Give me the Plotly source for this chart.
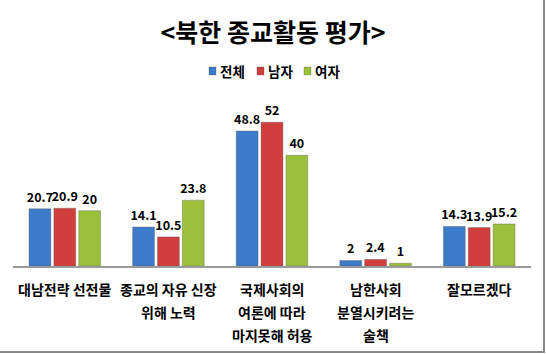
import plotly.graph_objects as go

categories = ["대남전략 선전물", "종교의 자유 신장 위해 노력", "국제사회의 여론에 따라 마지못해 허용",
              "남한사회 분열시키려는 술책", "잘모르겠다"]
label_lines = [["대남전략 선전물"], ["종교의 자유 신장", "위해 노력"],
               ["국제사회의", "여론에 따라", "마지못해 허용"],
               ["남한사회", "분열시키려는", "술책"], ["잘모르겠다"]]
series_names = ["전체", "남자", "여자"]
total = [20.7, 14.1, 48.8, 2, 14.3]
male = [20.9, 10.5, 52, 2.4, 13.9]
female = [20, 23.8, 40, 1, 15.2]
colors = ["#3D7BC8", "#D13E3E", "#9CC03C"]

W, H = 546, 354
L, R, T, B = 13, 15, 100, 88
FONT = "Noto Sans CJK KR"

fig = go.Figure()
for name, vals, col in zip(series_names, [total, male, female], colors):
    fig.add_trace(go.Bar(
        name=name, x=categories, y=vals,
        marker=dict(color=col, line=dict(color="rgba(90,90,90,0.35)", width=1)),
        text=[f"{v:g}" for v in vals], textposition="outside",
        textfont=dict(family=FONT, size=12.5, color="black", weight="bold"),
        constraintext="none", cliponaxis=False, showlegend=False,
    ))

pw = W - L - R
ph = H - T - B


def px_x(p):
    return (p - L) / pw


def px_y(p):
    return (H - B - p) / ph


annotations = []
for cat, lines in zip(categories, label_lines):
    for i, ln in enumerate(lines):
        ypix = 289 + i * 23
        annotations.append(dict(
            x=cat, xref="x", y=px_y(ypix), yref="paper",
            text=ln, showarrow=False, xanchor="center", yanchor="middle",
            font=dict(family=FONT, size=14, color="black", weight="bold"),
        ))

shapes = [
    dict(type="line", xref="paper", yref="paper", x0=px_x(544), x1=px_x(544),
         y0=px_y(0), y1=px_y(352), line=dict(color="#8A8A8A", width=2)),
    dict(type="line", xref="paper", yref="paper", x0=px_x(0), x1=px_x(545),
         y0=px_y(352), y1=px_y(352), line=dict(color="#8A8A8A", width=2)),
]

# custom compact legend (square + text)
legend_sq_x = [209, 257, 304]
legend_cy = 71
for name, col, sx in zip(series_names, colors, legend_sq_x):
    shapes.append(dict(type="rect", xref="paper", yref="paper",
                       x0=px_x(sx), x1=px_x(sx + 7), y0=px_y(legend_cy - 4), y1=px_y(legend_cy + 4),
                       fillcolor=col, line=dict(color="rgba(60,60,60,0.5)", width=0.5)))
    annotations.append(dict(x=px_x(sx + 9), xref="paper", y=px_y(legend_cy), yref="paper",
                            text=name, showarrow=False, xanchor="left", yanchor="middle",
                            font=dict(family=FONT, size=13.5, color="black", weight="bold")))

fig.update_layout(
    width=W, height=H,
    margin=dict(l=L, r=R, t=T, b=B),
    paper_bgcolor="white", plot_bgcolor="white",
    title=dict(text="<북한 종교활동 평가>", x=0.5, xanchor="center",
               y=1 - 33 / H, yanchor="middle", yref="container", xref="container",
               font=dict(family=FONT, size=25, color="black", weight="bold")),
    barmode="group", bargap=0.28, bargroupgap=0.12,
    showlegend=False,
    xaxis=dict(showticklabels=False, showline=True, linecolor="#9A9A9A", linewidth=1.5,
               ticks="", showgrid=False, zeroline=False),
    yaxis=dict(range=[0, 60], visible=False, showgrid=False, zeroline=False),
    annotations=annotations, shapes=shapes,
)

fig.write_html("out.html")
